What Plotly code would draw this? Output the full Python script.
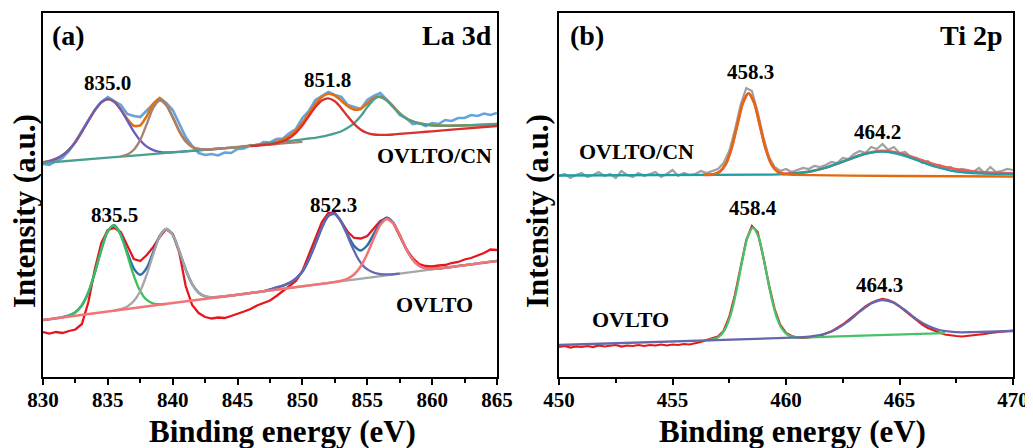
import plotly.graph_objects as go

# ---------------- Panel (a) La 3d : OVLTO/CN (upper trace) ----------------
a_x = [830, 830.5, 831, 831.5, 832, 832.5, 833, 833.5, 834, 834.5,
       835, 835.5, 836, 836.5, 837, 837.5, 838, 838.5, 839, 839.5,
       840, 840.5, 841, 841.5, 842, 842.5, 843, 843.5, 844, 844.5,
       845, 845.5, 846, 846.5, 847, 847.5, 848, 848.5, 849, 849.5,
       850, 850.5, 851, 851.5, 852, 852.5, 853, 853.5, 854, 854.5,
       855, 855.5, 856, 856.5, 857, 857.5, 858, 858.5, 859, 859.5,
       860, 860.5, 861, 861.5, 862, 862.5, 863, 863.5, 864, 864.5,
       865]
a_cn_raw = [213, 212, 216, 219, 226, 235, 246, 256, 267, 275,
            280, 276, 272, 263, 261, 260, 267, 273, 279, 274,
            267, 253, 240, 231, 224, 222, 223, 221.5, 224.5, 224,
            228, 228.5, 232, 231, 235, 234.5, 238, 238.5, 244, 248,
            259, 266, 277, 281, 285, 282, 280, 272, 270, 268,
            277, 281, 284, 277, 271, 262, 259, 253, 254, 251,
            254, 253, 257, 256, 259, 259, 262, 261, 263.5, 262,
            264]
a_cn_fit = [214.6, 215.9, 218.2, 221.7, 227.3, 235.1, 245.3, 256.4, 266.9, 274.7,
            277.8, 275.1, 267.6, 258.0, 251.2, 251.7, 260.9, 273.1, 278.2, 272.4,
            259.9, 246.0, 235.8, 230.2, 228.0, 227.5, 227.7, 228.3, 228.8, 229.3,
            229.9, 230.6, 231.4, 232.1, 233.0, 233.8, 235.2, 237.4, 240.9, 246.3,
            254.1, 263.7, 272.9, 280.1, 283.2, 281.5, 276.3, 270.9, 267.4, 268.3,
            273.5, 279.0, 280.4, 276.7, 270.0, 263.6, 258.6, 255.6, 253.7, 252.5,
            251.7, 251.4, 251.3, 251.3, 251.4, 251.6, 251.8, 252.0, 252.3, 252.7,
            253.0]
a_cn_p1_x = [830, 830.5, 831, 831.5, 832, 832.5, 833, 833.5, 834, 834.5,
             835, 835.5, 836, 836.5, 837, 837.5, 838, 838.5, 839, 839.5,
             840, 841, 842, 843]
a_cn_p1_y = [214.6, 215.9, 218.2, 221.7, 227.3, 235.1, 245.3, 256.4, 266.9, 274.7,
             277.8, 275.1, 267.2, 256.4, 245.4, 236.5, 230.4, 226.9, 225.2, 224.6,
             224.8, 225.6, 226.7, 227.7]
a_cn_p2_x = [836, 836.5, 837, 837.5, 838, 838.5, 839, 839.5, 840, 840.5,
             841, 841.5, 842, 842.5, 843, 844, 845, 846, 847, 848, 849, 850]
a_cn_p2_y = [220.7, 222.5, 227.2, 237.1, 253.0, 269.2, 276.5, 271.8, 259.7, 246.0,
             235.8, 230.2, 228.0, 227.5, 227.7, 228.8, 229.9, 230.9, 232.0, 233.0, 234.1, 235.1]
a_cn_p3_x = [846, 846.5, 847, 847.5, 848, 848.5, 849, 849.5, 850, 850.5,
             851, 851.5, 852, 852.5, 853, 853.5, 854, 854.5, 855, 855.5,
             856, 856.5, 857, 858, 859, 860, 862, 865]
a_cn_p3_y = [230.9, 231.4, 232.1, 232.7, 233.9, 235.8, 239.0, 244.1, 251.6, 260.9,
             269.9, 276.5, 278.7, 275.7, 268.8, 260.4, 252.9, 247.3, 244.0, 242.5,
             242.1, 242.2, 242.5, 243.6, 244.7, 245.7, 247.8, 251.0]
a_cn_p4_x = [830, 835, 840, 845, 846, 846.5, 847, 847.5, 848, 848.5,
             849, 849.5, 850, 850.5, 851, 851.5, 852, 852.5, 853, 853.5,
             854, 854.5, 855, 855.5, 855.8, 856, 856.5, 857, 857.5, 858,
             858.5, 859, 859.5, 860, 860.5, 861, 861.5, 862, 862.5, 863,
             863.5, 864, 864.5, 865]
a_cn_p4_y = [214.0, 219.3, 224.6, 229.9, 231.4, 232.1, 232.9, 233.6, 234.3, 235.2,
             236.0, 236.8, 237.6, 238.5, 239.2, 240.3, 241.8, 243.6, 245.8, 249.3,
             253.9, 260.9, 269.9, 277.5, 279.8, 279.8, 276.5, 270.0, 263.6, 258.6,
             255.6, 253.7, 252.5, 251.7, 251.4, 251.3, 251.3, 251.4, 251.6, 251.8,
             252.0, 252.3, 252.7, 253.0]

# ---------------- Panel (a) La 3d : OVLTO (lower trace) ----------------
a_o_raw = [45, 43.5, 45, 44, 46, 47.5, 53, 75, 108, 134,
           147, 149, 145, 131, 118, 116, 122, 130, 140, 148,
           143, 125, 91, 72, 64, 60, 58.5, 59.5, 59, 61,
           63, 65.5, 68, 71.5, 74, 76.5, 81, 86, 91, 96,
           106, 122, 139, 155, 164, 164, 155, 145, 139, 138.5,
           141, 149, 156, 159, 154, 141, 128, 119, 113, 111,
           110.5, 111.5, 112, 114, 115, 117.5, 119, 121.5, 124, 127.5,
           127]
a_o_fit = [57.0, 57.8, 58.7, 59.8, 61.5, 64.8, 71.8, 84.7, 104.5, 127.6,
           145.9, 151.7, 142.4, 124.6, 108.4, 102.2, 109.1, 125.0, 141.1, 148.1,
           142.2, 126.1, 107.5, 92.9, 84.3, 80.6, 79.6, 80.0, 80.6, 81.4,
           82.3, 83.1, 84.0, 84.8, 85.7, 87.5, 89.5, 91.3, 94.1, 98.5,
           105.4, 117.6, 133.1, 149.4, 161.1, 163.1, 155.3, 142.0, 130.9, 126.6,
           131.7, 143.0, 154.1, 159.2, 154.2, 142.0, 128.2, 117.5, 111.2, 108.6,
           108.1, 108.4, 109.3, 110.1, 111.0, 111.8, 112.6, 113.5, 114.3, 115.2,
           116.0]
a_o_p1_x = [831.4, 831.9, 832.4, 832.9, 833.4, 833.9, 834.4, 834.9, 835.4,
            835.9, 836.4, 836.9, 837.4, 837.9, 838.4, 838.9, 839.4]
a_o_p1_y = [59.6, 61.0, 63.8, 69.9, 81.5, 100.1, 123.0, 143.1, 151.6,
            144.7, 126.4, 105.1, 88.3, 78.3, 74.0, 72.8, 73.0]
a_o_p2_x = [835.5, 836, 836.5, 837, 837.5, 838, 838.5, 839, 839.5, 840,
            840.5, 841, 841.5, 842, 842.5, 843, 843.5, 845, 850, 855, 860]
a_o_p2_y = [66.5, 67.8, 70.5, 75.9, 86.1, 102.5, 122.7, 140.5, 148.0, 142.2,
            126.1, 107.5, 92.9, 84.3, 80.6, 79.6, 80.0, 82.3, 90.7, 99.2, 107.6]
a_o_p3_x = [847, 847.8, 848.3, 848.8, 849.3, 849.8, 850.3, 850.8, 851.3, 851.8,
            852.3, 852.8, 853.3, 853.8, 854.3, 854.8, 855.3, 855.8, 856.3, 856.8, 857.5]
a_o_p3_y = [85.7, 88.5, 90.7, 93.0, 96.4, 102.1, 112.4, 126.6, 143.0, 157.4,
            163.6, 159.1, 146.4, 131.2, 118.1, 109.6, 105.5, 103.4, 102.7, 102.7, 103.4]
a_o_p4_x = [830, 840, 850, 852, 852.5, 853, 853.5, 854, 854.5, 855,
            855.5, 856, 856.5, 857, 857.5, 858, 858.5, 859, 859.5, 860,
            860.5, 865]
a_o_p4_y = [57.0, 73.9, 90.7, 94.1, 95.0, 96.3, 98.5, 102.8, 110.7, 123.2,
            138.6, 152.0, 158.0, 153.7, 142.0, 128.2, 117.5, 111.2, 108.6, 108.1,
            108.5, 116.0]

# ---------------- Panel (b) Ti 2p ----------------
b_x = [450, 450.25, 450.5, 450.75, 451, 451.25, 451.5, 451.75, 452, 452.25,
       452.5, 452.75, 453, 453.25, 453.5, 453.75, 454, 454.25, 454.5, 454.75,
       455, 455.25, 455.5, 455.75, 456, 456.25, 456.5, 456.75, 457, 457.25,
       457.5, 457.75, 458, 458.25, 458.5, 458.75, 459, 459.25, 459.5, 459.75,
       460, 460.25, 460.5, 460.75, 461, 461.25, 461.5, 461.75, 462, 462.25,
       462.5, 462.75, 463, 463.25, 463.5, 463.75, 464, 464.25, 464.5, 464.75,
       465, 465.25, 465.5, 465.75, 466, 466.25, 466.5, 466.75, 467, 467.25,
       467.5, 467.75, 468, 468.25, 468.5, 468.75, 469, 469.25, 469.5, 469.75,
       470]
b_cn_raw = [201, 203, 199, 202, 204, 200, 202, 205, 201, 203,
            199, 206, 202, 200, 204, 201, 203, 205, 200, 203,
            207, 201, 204, 202, 203, 206, 204, 206, 208, 214,
            226, 247, 272, 289, 286, 265, 240, 220, 210, 206,
            208, 205, 207, 209, 208, 211, 210, 212, 215, 214,
            219, 218, 223, 226, 224, 230, 228, 233, 227, 230,
            224, 225, 220, 219, 214, 216, 211, 212, 209, 210,
            206, 208, 207, 205, 209, 204, 210, 205, 206, 208,
            207]
b_cn_fit_x = [456.35, 456.6, 456.85, 457.1, 457.35, 457.6, 457.85, 458.1, 458.35, 458.6,
              458.85, 459.1, 459.35, 459.6, 459.85, 460.2, 460.7, 461.2, 461.7, 462.2,
              462.7, 463.2, 463.7, 464.2, 464.7, 465.2, 465.7, 466.2, 466.7, 467.2,
              467.7, 468.2, 468.7, 469.2, 470]
b_cn_fit_y = [202.2, 202.2, 202.9, 205.6, 213.1, 228.6, 251.6, 274.1, 283.7, 274.1,
              251.6, 228.7, 213.3, 206.0, 203.6, 203.5, 204.4, 206.2, 209.0, 212.8,
              217.0, 221.4, 224.5, 226.0, 225.2, 222.6, 218.8, 215.0, 211.6, 209.0,
              207.0, 205.6, 204.6, 204.0, 203.6]
b_cn_p1_x = [456.35, 456.6, 456.85, 457.1, 457.35, 457.6, 457.85, 458.1, 458.35, 458.6,
             458.85, 459.1, 459.35, 459.6, 459.85, 460.1, 460.35, 465, 470]
b_cn_p1_y = [202.2, 202.2, 202.9, 205.6, 213.1, 228.6, 251.6, 274.1, 283.7, 274.1,
             251.6, 228.6, 213.1, 205.6, 203.0, 202.5, 202.1, 201.0, 200.5]
b_cn_p2_x = [450, 459.2, 459.7, 460.2, 460.7, 461.2, 461.7, 462.2, 462.7, 463.2,
             463.7, 464.2, 464.7, 465.2, 465.7, 466.2, 466.7, 467.2, 467.7, 468.2,
             468.7, 469.2, 470]
b_cn_p2_y = [201.5, 202.4, 202.6, 203.2, 204.4, 206.2, 209.0, 212.8, 217.0, 221.2,
             224.1, 225.3, 224.2, 221.3, 217.3, 213.1, 209.5, 206.7, 204.9, 203.9,
             203.3, 203.2, 203.1]

b_o_raw = [30, 31, 29.5, 30.5, 30, 31, 30, 31.5, 30.5, 31,
           32, 30.5, 31.5, 31, 32, 31, 32, 31.5, 32.5, 31.5,
           32.5, 32, 33, 32.5, 33.5, 35, 37, 38.5, 40.5, 46,
           60, 82, 110, 137, 151, 145, 120, 92, 68, 52,
           44, 41, 39.5, 39, 39.5, 40.5, 41, 43.5, 45.5, 49,
           52.5, 57, 62, 66, 70.5, 74, 76.5, 78, 77, 74.5,
           70.5, 66, 61, 56.5, 52.5, 49, 46.5, 44.5, 42.5, 41.5,
           41, 40.5, 41, 41.5, 42.5, 43, 44, 44.5, 45.5, 46,
           46.5]
b_o_p1_x = [456.55, 456.8, 457.05, 457.3, 457.55, 457.8, 458.05, 458.3, 458.55, 458.8,
            459.05, 459.3, 459.55, 459.8, 460.05, 460.3, 460.55, 463, 467]
b_o_p1_y = [36.8, 37.8, 40.4, 47.2, 61.3, 84.5, 113.7, 139.2, 149.7, 139.6,
            114.4, 85.5, 62.7, 49.0, 42.5, 40.2, 39.6, 41.1, 43.9]
b_o_p2_x = [450, 460.25, 460.75, 461.25, 461.75, 462.25, 462.75, 463.25, 463.75, 464.25,
            464.75, 465.25, 465.75, 466.25, 466.75, 467.25, 467.75, 468.25, 470]
b_o_p2_y = [32.0, 39.3, 39.8, 41.1, 43.5, 48.3, 55.8, 65.3, 73.5, 77.0,
            74.2, 66.7, 57.9, 51.1, 47.0, 45.3, 44.7, 44.9, 46.0]

a_ticks = [830, 835, 840, 845, 850, 855, 860, 865]
a_minor = [832.5, 837.5, 842.5, 847.5, 852.5, 857.5, 862.5]
b_ticks = [450, 455, 460, 465, 470]
b_minor = [452.5, 457.5, 462.5, 467.5]

SERIF = "Liberation Serif"

fig = go.Figure()


def line(x, y, color, width, ax, shape="spline"):
    fig.add_trace(go.Scatter(
        x=x, y=y, mode="lines",
        line=dict(color=color, width=width, shape=shape,
                  smoothing=0.7 if shape == "spline" else None),
        xaxis="x" if ax == 1 else "x2", yaxis="y" if ax == 1 else "y2",
        showlegend=False, hoverinfo="skip"))


# panel (a) upper
line(a_x, a_cn_raw, "#64A3DC", 2.6, 1, "linear")
line(a_x, a_cn_fit, "#E2700F", 2.6, 1)
line(a_cn_p1_x, a_cn_p1_y, "#6A5BBE", 2.3, 1)
line(a_cn_p4_x, a_cn_p4_y, "#4AA090", 2.3, 1)
line(a_cn_p2_x, a_cn_p2_y, "#A38272", 2.3, 1)
line(a_cn_p3_x, a_cn_p3_y, "#D9302C", 2.3, 1)
# panel (a) lower
line(a_x, a_o_raw, "#E8161B", 2.3, 1, "linear")
line(a_x, a_o_fit, "#2F6EAA", 2.5, 1)
line(a_o_p1_x, a_o_p1_y, "#3DBE5C", 2.3, 1)
line(a_o_p2_x, a_o_p2_y, "#A6A6A6", 2.3, 1)
line(a_o_p3_x, a_o_p3_y, "#6468B0", 2.3, 1)
line(a_o_p4_x, a_o_p4_y, "#F27474", 2.5, 1)
# panel (b) upper
line(b_x, b_cn_raw, "#A0A0A0", 2.2, 2, "linear")
line(b_cn_fit_x, b_cn_fit_y, "#F05A5A", 2.8, 2)
line(b_cn_p2_x, b_cn_p2_y, "#1F9EA3", 2.3, 2)
line(b_cn_p1_x, b_cn_p1_y, "#E06A10", 2.4, 2)
# panel (b) lower
line(b_x, b_o_raw, "#E41A1A", 2.2, 2, "linear")
line(b_o_p1_x, b_o_p1_y, "#47C26A", 2.3, 2)
line(b_o_p2_x, b_o_p2_y, "#6666AA", 2.3, 2)

tickfont = dict(family=SERIF, size=21, color="black", weight="bold")


def xaxis(dom, rng, ticks, minor):
    return dict(domain=dom, range=rng, tickmode="array", tickvals=ticks,
                ticks="outside", ticklen=6, tickwidth=2, tickcolor="black",
                ticklabelstandoff=-3,
                showline=True, linewidth=2, linecolor="black", mirror=True,
                showgrid=False, zeroline=False, tickfont=tickfont, automargin=False,
                minor=dict(tickmode="array", tickvals=minor, ticks="outside",
                           ticklen=4, tickwidth=1.5, tickcolor="black"))


def yaxis(anchor):
    return dict(domain=[0.176339, 0.988839], range=[0, 364], showticklabels=False,
                ticks="", showline=True, linewidth=2, linecolor="black",
                mirror=True, showgrid=False, zeroline=False, anchor=anchor,
                automargin=False)


fig.update_layout(
    width=1033, height=448, autosize=False,
    margin=dict(l=0, r=0, t=0, b=0, pad=0, autoexpand=False),
    paper_bgcolor="white", plot_bgcolor="white", showlegend=False,
    xaxis=xaxis([0.033882, 0.473379], [830, 865], a_ticks, a_minor),
    yaxis=yaxis("x"),
    xaxis2=dict(xaxis([0.533398, 0.972894], [450, 470], b_ticks, b_minor), anchor="y2"),
    yaxis2=yaxis("x2"),
)


def txt(x, y, s, size, ax=1, xanchor="center", ref=None, angle=0):
    if ref == "paper":
        xr, yr = "paper", "paper"
    else:
        xr, yr = ("x", "y") if ax == 1 else ("x2", "y2")
    fig.add_annotation(x=x, y=y, xref=xr, yref=yr, text=s, showarrow=False,
                       xanchor=xanchor, yanchor="middle", textangle=angle,
                       font=dict(family=SERIF, size=size, color="black", weight="bold"))


# panel (a) labels
txt(831.93, 342, "(a)", 28)
txt(864.78, 342, "La 3d", 28, xanchor="right")
txt(835.0, 294, "835.0", 21)
txt(851.9, 297, "851.8", 21)
txt(864.78, 222, "OVLTO/CN", 22, xanchor="right")
txt(835.5, 162, "835.5", 21)
txt(852.4, 172, "852.3", 21)
txt(860.16, 72.7, "OVLTO", 22)
# panel (b) labels
txt(451.22, 342, "(b)", 28, ax=2)
txt(469.65, 342, "Ti 2p", 28, ax=2, xanchor="right")
txt(458.45, 305.3, "458.3", 21, ax=2)
txt(464.03, 245.3, "464.2", 21, ax=2)
txt(453.42, 225.3, "OVLTO/CN", 22, ax=2)
txt(458.56, 168.7, "458.4", 21, ax=2)
txt(464.14, 92, "464.3", 21, ax=2)
txt(453.13, 57.7, "OVLTO", 22, ax=2)
# axis titles
txt(0.0155, 0.546875, "Intensity (a.u.)", 31, ref="paper", angle=-90)
txt(0.512101, 0.546875, "Intensity (a.u.)", 31, ref="paper", angle=-90)
txt(0.265731, 0.054, "Binding energy (eV)", 31, ref="paper")
txt(0.759439, 0.054, "Binding energy (eV)", 31, ref="paper")

fig.write_html("out.html")
